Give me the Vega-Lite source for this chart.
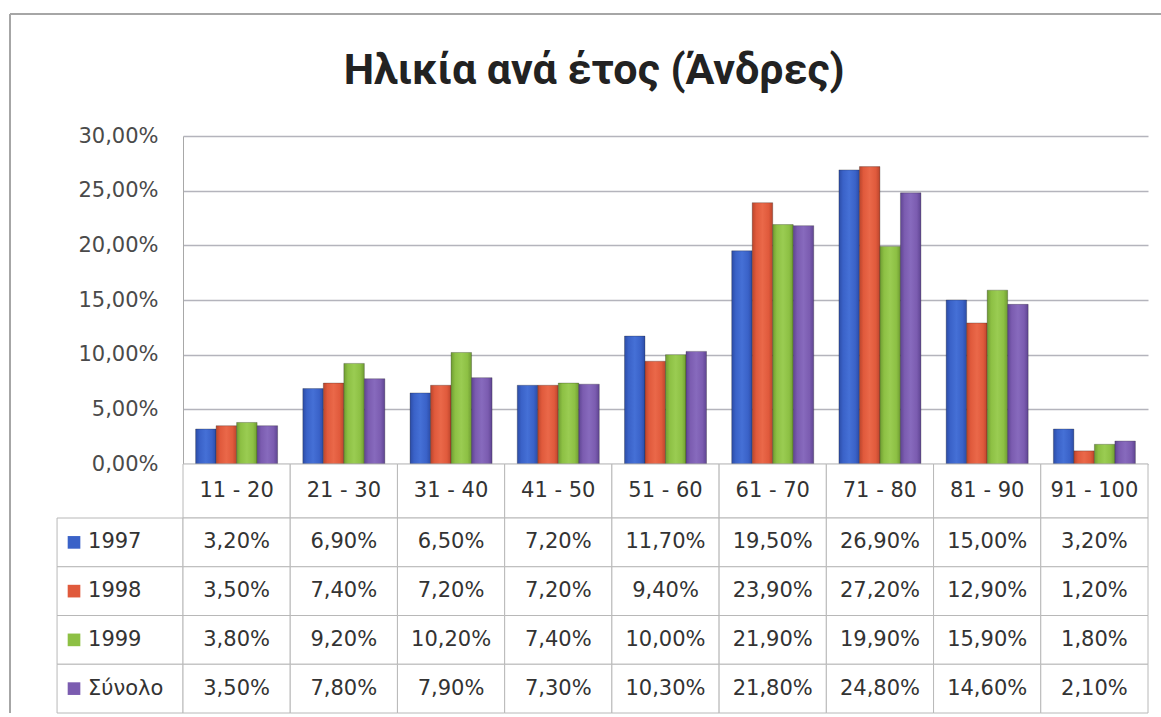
{
  "$schema": "https://vega.github.io/schema/vega-lite/v6.json",
  "padding": {"left": 9, "top": 13, "right": 0, "bottom": 0},
  "background": "white",
  "datasets": {
    "d": [
      {"cat": "11 - 20", "series": "1997", "v": 0.032},
      {"cat": "21 - 30", "series": "1997", "v": 0.069},
      {"cat": "31 - 40", "series": "1997", "v": 0.065},
      {"cat": "41 - 50", "series": "1997", "v": 0.072},
      {"cat": "51 - 60", "series": "1997", "v": 0.117},
      {"cat": "61 - 70", "series": "1997", "v": 0.195},
      {"cat": "71 - 80", "series": "1997", "v": 0.269},
      {"cat": "81 - 90", "series": "1997", "v": 0.150},
      {"cat": "91 - 100", "series": "1997", "v": 0.032},
      {"cat": "11 - 20", "series": "1998", "v": 0.035},
      {"cat": "21 - 30", "series": "1998", "v": 0.074},
      {"cat": "31 - 40", "series": "1998", "v": 0.072},
      {"cat": "41 - 50", "series": "1998", "v": 0.072},
      {"cat": "51 - 60", "series": "1998", "v": 0.094},
      {"cat": "61 - 70", "series": "1998", "v": 0.239},
      {"cat": "71 - 80", "series": "1998", "v": 0.272},
      {"cat": "81 - 90", "series": "1998", "v": 0.129},
      {"cat": "91 - 100", "series": "1998", "v": 0.012},
      {"cat": "11 - 20", "series": "1999", "v": 0.038},
      {"cat": "21 - 30", "series": "1999", "v": 0.092},
      {"cat": "31 - 40", "series": "1999", "v": 0.102},
      {"cat": "41 - 50", "series": "1999", "v": 0.074},
      {"cat": "51 - 60", "series": "1999", "v": 0.100},
      {"cat": "61 - 70", "series": "1999", "v": 0.219},
      {"cat": "71 - 80", "series": "1999", "v": 0.199},
      {"cat": "81 - 90", "series": "1999", "v": 0.159},
      {"cat": "91 - 100", "series": "1999", "v": 0.018},
      {"cat": "11 - 20", "series": "Σύνολο", "v": 0.035},
      {"cat": "21 - 30", "series": "Σύνολο", "v": 0.078},
      {"cat": "31 - 40", "series": "Σύνολο", "v": 0.079},
      {"cat": "41 - 50", "series": "Σύνολο", "v": 0.073},
      {"cat": "51 - 60", "series": "Σύνολο", "v": 0.103},
      {"cat": "61 - 70", "series": "Σύνολο", "v": 0.218},
      {"cat": "71 - 80", "series": "Σύνολο", "v": 0.248},
      {"cat": "81 - 90", "series": "Σύνολο", "v": 0.146},
      {"cat": "91 - 100", "series": "Σύνολο", "v": 0.021}
    ]
  },
  "columns": 2,
  "spacing": 0,
  "bounds": "flush",
  "align": "each",
  "resolve": {"scale": {"color": "independent"}},
  "concat": [
    {
      "width": 173,
      "height": 122,
      "data": {"values": [{}]},
      "layer": [
        {"mark": {"type": "rule", "color": "#a6a6a6", "strokeWidth": 2},
         "encoding": {"x": {"datum": 0, "type": "quantitative", "scale": {"domain": [0, 1], "nice": false}, "axis": null}}},
        {"mark": {"type": "rule", "color": "#a6a6a6", "strokeWidth": 2},
         "encoding": {"y": {"datum": 1, "type": "quantitative", "scale": {"domain": [0, 1], "nice": false}, "axis": null}}}
      ]
    },
    {
      "width": 979,
      "height": 122,
      "data": {"values": [{"t": "Ηλικία ανά έτος (Άνδρες)"}]},
      "layer": [
        {"mark": {"type": "rule", "color": "#a6a6a6", "strokeWidth": 2},
         "encoding": {"y": {"datum": 1, "type": "quantitative", "scale": {"domain": [0, 1], "nice": false}, "axis": null}}},
        {"mark": {"type": "text", "font": "Roboto", "fontSize": 43, "fontWeight": "bold", "color": "#222222", "align": "center", "baseline": "alphabetic"},
         "encoding": {"x": {"datum": 0.42, "type": "quantitative", "scale": {"domain": [0, 1], "nice": false}, "axis": null},
                      "y": {"datum": 0.426, "type": "quantitative"}, "text": {"field": "t"}}}
      ]
    },
    {
      "width": 173,
      "height": 328,
      "data": {"values": [{}]},
      "mark": {"type": "rule", "color": "#a6a6a6", "strokeWidth": 2},
      "encoding": {"x": {"datum": 0, "type": "quantitative", "scale": {"domain": [0, 1], "nice": false}, "axis": null}}
    },
    {
      "width": 965,
      "height": 328,
      "data": {"name": "d"},
      "encoding": {
        "x": {"field": "cat", "type": "nominal", "sort": null,
              "scale": {"domain": ["11 - 20","21 - 30","31 - 40","41 - 50","51 - 60","61 - 70","71 - 80","81 - 90","91 - 100"], "paddingInner": 0.235, "paddingOuter": 0.1175},
              "axis": null},
        "xOffset": {"field": "series", "type": "nominal", "sort": null,
              "scale": {"domain": ["1997","1998","1999","Σύνολο"], "paddingInner": 0, "paddingOuter": 0}},
        "y": {"field": "v", "type": "quantitative",
              "scale": {"domain": [0, 0.3], "nice": false},
              "axis": {"values": [0, 0.05, 0.1, 0.15, 0.2, 0.25, 0.3], "format": ".2%", "title": null, "ticks": false,
                       "labelPadding": 25, "labelFontSize": 21, "labelColor": "#4a4a4a", "labelFont": "DejaVu Sans",
                       "domainColor": "#a8a8a8", "grid": true, "gridColor": "#b4b4bc", "gridWidth": 1.5}}
      },
      "layer": [
        {"transform": [{"filter": "datum.series == '1997'"}],
         "mark": {"type": "bar", "stroke": "#1a1a1a", "strokeOpacity": 0.35, "strokeWidth": 0.8,
                  "fill": {"gradient": "linear", "x1": 0, "y1": 0, "x2": 1, "y2": 0, "stops": [{"offset": 0, "color": "#2c4ca6"}, {"offset": 0.2, "color": "#3a62c8"}, {"offset": 0.5, "color": "#4570d6"}, {"offset": 0.8, "color": "#3a62c8"}, {"offset": 1, "color": "#2c4ca6"}]}}},
        {"transform": [{"filter": "datum.series == '1998'"}],
         "mark": {"type": "bar", "stroke": "#1a1a1a", "strokeOpacity": 0.35, "strokeWidth": 0.8,
                  "fill": {"gradient": "linear", "x1": 0, "y1": 0, "x2": 1, "y2": 0, "stops": [{"offset": 0, "color": "#bb452c"}, {"offset": 0.2, "color": "#e05a3c"}, {"offset": 0.5, "color": "#ea6849"}, {"offset": 0.8, "color": "#e05a3c"}, {"offset": 1, "color": "#bb452c"}]}}},
        {"transform": [{"filter": "datum.series == '1999'"}],
         "mark": {"type": "bar", "stroke": "#1a1a1a", "strokeOpacity": 0.35, "strokeWidth": 0.8,
                  "fill": {"gradient": "linear", "x1": 0, "y1": 0, "x2": 1, "y2": 0, "stops": [{"offset": 0, "color": "#6f9c32"}, {"offset": 0.2, "color": "#8dc044"}, {"offset": 0.5, "color": "#9acc52"}, {"offset": 0.8, "color": "#8dc044"}, {"offset": 1, "color": "#6f9c32"}]}}},
        {"transform": [{"filter": "datum.series == 'Σύνολο'"}],
         "mark": {"type": "bar", "stroke": "#1a1a1a", "strokeOpacity": 0.35, "strokeWidth": 0.8,
                  "fill": {"gradient": "linear", "x1": 0, "y1": 0, "x2": 1, "y2": 0, "stops": [{"offset": 0, "color": "#5f4592"}, {"offset": 0.2, "color": "#7b5cb0"}, {"offset": 0.5, "color": "#876abd"}, {"offset": 0.8, "color": "#7b5cb0"}, {"offset": 1, "color": "#5f4592"}]}}}
      ]
    },
    {
      "width": 173,
      "height": 54,
      "data": {"values": [{}]},
      "mark": {"type": "rule", "color": "#a6a6a6", "strokeWidth": 2},
      "encoding": {"x": {"datum": 0, "type": "quantitative", "scale": {"domain": [0, 1], "nice": false}, "axis": null}}
    },
    {
      "width": 965,
      "height": 54,
      "data": {"name": "d"},
      "transform": [{"aggregate": [{"op": "count", "as": "n"}], "groupby": ["cat"]}],
      "encoding": {
        "x": {"field": "cat", "type": "nominal", "sort": null,
              "scale": {"domain": ["11 - 20","21 - 30","31 - 40","41 - 50","51 - 60","61 - 70","71 - 80","81 - 90","91 - 100"], "paddingInner": 0, "paddingOuter": 0},
              "axis": null}
      },
      "layer": [
        {"mark": {"type": "rect", "fill": "white", "stroke": "#b8b8b8", "strokeWidth": 1}},
        {"mark": {"type": "text", "baseline": "middle", "fontSize": 21, "font": "DejaVu Sans", "color": "#333333"},
         "encoding": {"text": {"field": "cat"}}}
      ]
    },
    {
      "width": 173,
      "height": 195,
      "data": {"name": "d"},
      "transform": [{"aggregate": [{"op": "count", "as": "n"}], "groupby": ["series"]}],
      "layer": [
        {"mark": {"type": "rule", "color": "#a6a6a6", "strokeWidth": 2},
         "encoding": {"x": {"datum": 0, "type": "quantitative", "scale": {"domain": [0, 1], "nice": false}, "axis": null}}},
        {"mark": {"type": "rect", "fill": "white", "stroke": "#b8b8b8", "strokeWidth": 1},
         "encoding": {"x": {"datum": 0.272, "type": "quantitative"}, "x2": {"datum": 1},
                      "y": {"field": "series", "type": "nominal",
                            "scale": {"domain": ["1997","1998","1999","Σύνολο"], "paddingInner": 0, "paddingOuter": 0},
                            "axis": null}}},
        {"mark": {"type": "point", "shape": "square", "filled": true, "size": 160, "opacity": 1},
         "encoding": {"x": {"datum": 0.37, "type": "quantitative"},
                      "y": {"field": "series", "type": "nominal"},
                      "color": {"field": "series", "type": "nominal",
                                "scale": {"domain": ["1997","1998","1999","Σύνολο"], "range": ["#3a62c8", "#e05a3c", "#8dc044", "#7b5cb0"]},
                                "legend": null}}},
        {"mark": {"type": "text", "align": "left", "baseline": "middle", "fontSize": 21, "font": "DejaVu Sans", "color": "#333333"},
         "encoding": {"x": {"datum": 0.451, "type": "quantitative"}, "y": {"field": "series", "type": "nominal"}, "text": {"field": "series"}}}
      ]
    },
    {
      "width": 965,
      "height": 195,
      "data": {"name": "d"},
      "encoding": {
        "x": {"field": "cat", "type": "nominal", "sort": null,
              "scale": {"domain": ["11 - 20","21 - 30","31 - 40","41 - 50","51 - 60","61 - 70","71 - 80","81 - 90","91 - 100"], "paddingInner": 0, "paddingOuter": 0},
              "axis": null},
        "y": {"field": "series", "type": "nominal",
              "scale": {"domain": ["1997","1998","1999","Σύνολο"], "paddingInner": 0, "paddingOuter": 0},
              "axis": null}
      },
      "layer": [
        {"mark": {"type": "rect", "fill": "white", "stroke": "#b8b8b8", "strokeWidth": 1}},
        {"mark": {"type": "text", "baseline": "middle", "fontSize": 21, "font": "DejaVu Sans", "color": "#333333"},
         "encoding": {"text": {"field": "v", "type": "quantitative", "format": ".2%"}}}
      ]
    }
  ],
  "config": {
    "view": {"stroke": null},
    "locale": {"number": {"decimal": ",", "thousands": ".", "grouping": [3], "currency": ["", " €"]}}
  }
}
